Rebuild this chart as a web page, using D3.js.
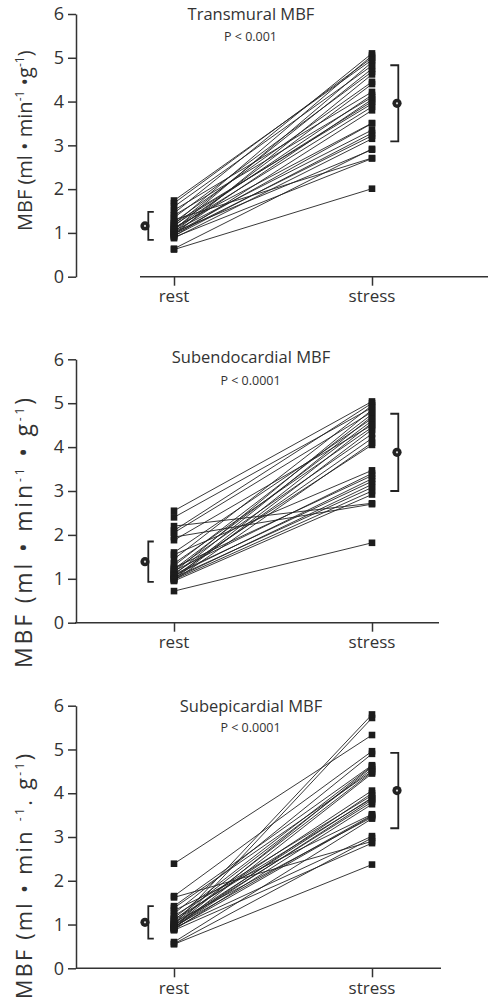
<!DOCTYPE html>
<html>
<head>
<meta charset="utf-8">
<script src="https://cdn.jsdelivr.net/npm/d3@7"></script>
<style>
  body { margin: 0; background: #fff; }
  text { font-family: "Open Sans", "Noto Sans", sans-serif; fill: #333; }
  .ylab { white-space: pre; }
</style>
</head>
<body>
<svg id="chart" width="498" height="1001"></svg>
<script>
// Categories and tick labels
const conditions = ["rest", "stress"];
const yTicks = [0, 1, 2, 3, 4, 5, 6];
const titles = ["Transmural MBF", "Subendocardial MBF", "Subepicardial MBF"];
const pValues = ["P < 0.001", "P < 0.0001", "P < 0.0001"];

// Per-patient myocardial blood flow (ml/min/g), paired rest -> stress
const transmuralRest   = [0.62, 0.64, 0.88, 0.90, 0.92, 0.93, 0.95, 0.97, 0.98, 1.00, 1.02, 1.03, 1.05, 1.07, 1.08, 1.10, 1.12, 1.15, 1.18, 1.20, 1.22, 1.25, 1.30, 1.35, 1.40, 1.45, 1.52, 1.60, 1.68, 1.74];
const transmuralStress = [2.01, 2.92, 3.15, 2.70, 3.80, 3.28, 4.62, 3.22, 3.50, 4.05, 2.90, 4.40, 3.35, 4.90, 3.88, 4.15, 3.51, 4.75, 4.00, 5.05, 3.95, 4.45, 2.71, 4.68, 4.10, 5.10, 4.22, 4.82, 5.00, 4.95];

const subendoRest   = [0.72, 0.95, 0.96, 0.98, 0.99, 1.00, 1.01, 1.03, 1.05, 1.07, 1.09, 1.10, 1.12, 1.15, 1.18, 1.20, 1.22, 1.25, 1.30, 1.35, 1.45, 1.55, 1.60, 1.88, 1.95, 2.05, 2.10, 2.20, 2.40, 2.55];
const subendoStress = [1.82, 2.92, 4.10, 3.00, 4.40, 3.15, 4.55, 3.08, 4.20, 3.28, 4.70, 3.22, 4.05, 4.85, 3.40, 4.30, 4.60, 3.35, 4.75, 4.45, 4.95, 3.47, 4.65, 4.50, 2.70, 4.80, 5.00, 2.72, 4.90, 5.04];

const subepiRest   = [0.55, 0.56, 0.60, 0.87, 0.88, 0.89, 0.90, 0.91, 0.92, 0.93, 0.94, 0.95, 0.96, 0.98, 1.00, 1.00, 1.02, 1.05, 1.08, 1.10, 1.12, 1.15, 1.20, 1.25, 1.32, 1.38, 1.42, 1.62, 1.65, 2.39];
const subepiStress = [2.37, 2.98, 3.42, 2.86, 3.75, 5.72, 3.48, 4.45, 3.02, 3.85, 4.00, 3.50, 4.60, 3.80, 5.80, 3.90, 4.48, 3.45, 4.06, 4.55, 3.88, 4.62, 3.95, 4.90, 3.52, 4.50, 4.64, 2.90, 4.96, 5.33];

// Group summaries (mean and SD) per panel
const restMean   = [1.16, 1.39, 1.05];
const restSD     = [0.32, 0.46, 0.37];
const stressMean = [3.96, 3.88, 4.06];
const stressSD   = [0.87, 0.88, 0.86];

const restSeries   = [transmuralRest, subendoRest, subepiRest];
const stressSeries = [transmuralStress, subendoStress, subepiStress];

// Axis-title pieces per panel: [before first superscript, between, after]
const yLabelParts = [
  ["MBF (ml • min", " •g", ")"],
  ["MBF (ml • min", " • g", ")"],
  ["MBF (ml • min ", ". g", ")"]
];

// Layout for each of the three stacked panels
const layout = [
  { top: 14,    bottom: 276.7, axisStart: 140, axisEnd: 488, titleY: 20,    pY: 41,    catY: 302, labelStart: 231, labelSize: 20, labelLen: null },
  { top: 359.3, bottom: 622.7, axisStart: 75,  axisEnd: 439, titleY: 362.7, pY: 385,   catY: 648, labelStart: 668, labelSize: 23, labelLen: 270 },
  { top: 705.7, bottom: 968.3, axisStart: 76,  axisEnd: 441, titleY: 711.7, pY: 731.7, catY: 994, labelStart: 999, labelSize: 21.5, labelLen: 245 }
];

const svg = d3.select("#chart");
const axisX = 76;
const x = d3.scalePoint().domain(conditions).range([174, 372]);
const ink = "#222";
const sq = 6.6;

layout.forEach((L, k) => {
  const g = svg.append("g");
  const y = d3.scaleLinear().domain([0, 6]).range([L.bottom, L.top]);

  // y axis
  const ya = g.append("g")
    .attr("transform", `translate(${axisX},0)`)
    .call(d3.axisLeft(y).tickValues(yTicks).tickFormat(d3.format("d"))
      .tickSize(8).tickSizeOuter(0).tickPadding(4));
  ya.select(".domain").attr("stroke", "#333").attr("stroke-width", 1.5);
  ya.selectAll(".tick line").attr("stroke", "#333").attr("stroke-width", 1.5);
  ya.selectAll(".tick text").attr("font-size", 18).attr("fill", "#333")
    .style("font-family", '"Open Sans", sans-serif');

  // x axis: baseline plus category ticks
  g.append("line")
    .attr("x1", L.axisStart).attr("x2", L.axisEnd)
    .attr("y1", y(0)).attr("y2", y(0))
    .attr("stroke", "#333").attr("stroke-width", 1.5);
  const xa = g.append("g").attr("transform", `translate(0,${y(0)})`)
    .call(d3.axisBottom(x).tickSize(9).tickSizeOuter(0).tickPadding(0));
  xa.select(".domain").remove();
  xa.selectAll(".tick line").attr("stroke", "#333").attr("stroke-width", 1.5);
  xa.selectAll(".tick text").remove();
  g.selectAll(".cat").data(conditions).enter().append("text")
    .attr("x", d => x(d)).attr("y", L.catY)
    .attr("text-anchor", "middle").attr("font-size", 17)
    .text(d => d);

  // titles
  g.append("text").attr("x", 251).attr("y", L.titleY)
    .attr("text-anchor", "middle").attr("font-size", 16.5).text(titles[k]);
  g.append("text").attr("x", 250.5).attr("y", L.pY)
    .attr("text-anchor", "middle").attr("font-size", 12.5).text(pValues[k]);

  // y axis label
  const parts = yLabelParts[k];
  const lab = g.append("text").attr("class", "ylab")
    .attr("transform", `translate(32,${L.labelStart}) rotate(-90)`)
    .attr("text-anchor", "start").attr("font-size", L.labelSize);
  if (L.labelLen) lab.attr("textLength", L.labelLen).attr("lengthAdjust", "spacing");
  lab.append("tspan").text(parts[0]);
  lab.append("tspan").attr("dy", -8).attr("font-size", 12).text("-1");
  lab.append("tspan").attr("dy", 8).text(parts[1]);
  lab.append("tspan").attr("dy", -8).attr("font-size", 12).text("-1");
  lab.append("tspan").attr("dy", 8).text(parts[2]);

  // paired patient lines
  const rest = restSeries[k], stress = stressSeries[k];
  const pairs = rest.map((r, i) => [r, stress[i]]);
  g.append("g").selectAll("line").data(pairs).enter().append("line")
    .attr("x1", x("rest")).attr("y1", d => y(d[0]))
    .attr("x2", x("stress")).attr("y2", d => y(d[1]))
    .attr("stroke", ink).attr("stroke-width", 0.9);

  // square markers
  const pts = rest.map(v => ["rest", v]).concat(stress.map(v => ["stress", v]));
  g.append("g").selectAll("rect").data(pts).enter().append("rect")
    .attr("x", d => x(d[0]) - sq / 2).attr("y", d => y(d[1]) - sq / 2)
    .attr("width", sq).attr("height", sq).attr("fill", "#1c1c1c");

  // mean ± SD markers
  const summaries = [
    { m: restMean[k], s: restSD[k], lx: 148.3, cx: 145, cap: 5.5 },
    { m: stressMean[k], s: stressSD[k], lx: 398.3, cx: 397, cap: -8 }
  ];
  summaries.forEach(S => {
    const t = y(S.m + S.s), b = y(S.m - S.s);
    g.append("path")
      .attr("d", `M${S.lx + S.cap},${t}H${S.lx}V${b}H${S.lx + S.cap}`)
      .attr("fill", "none").attr("stroke", ink).attr("stroke-width", 1.8);
    g.append("circle").attr("cx", S.cx).attr("cy", y(S.m)).attr("r", 4.6)
      .attr("fill", ink);
    g.append("circle").attr("cx", S.cx).attr("cy", y(S.m)).attr("r", 1.1)
      .attr("fill", "#ddd");
  });
});
</script>
</body>
</html>
